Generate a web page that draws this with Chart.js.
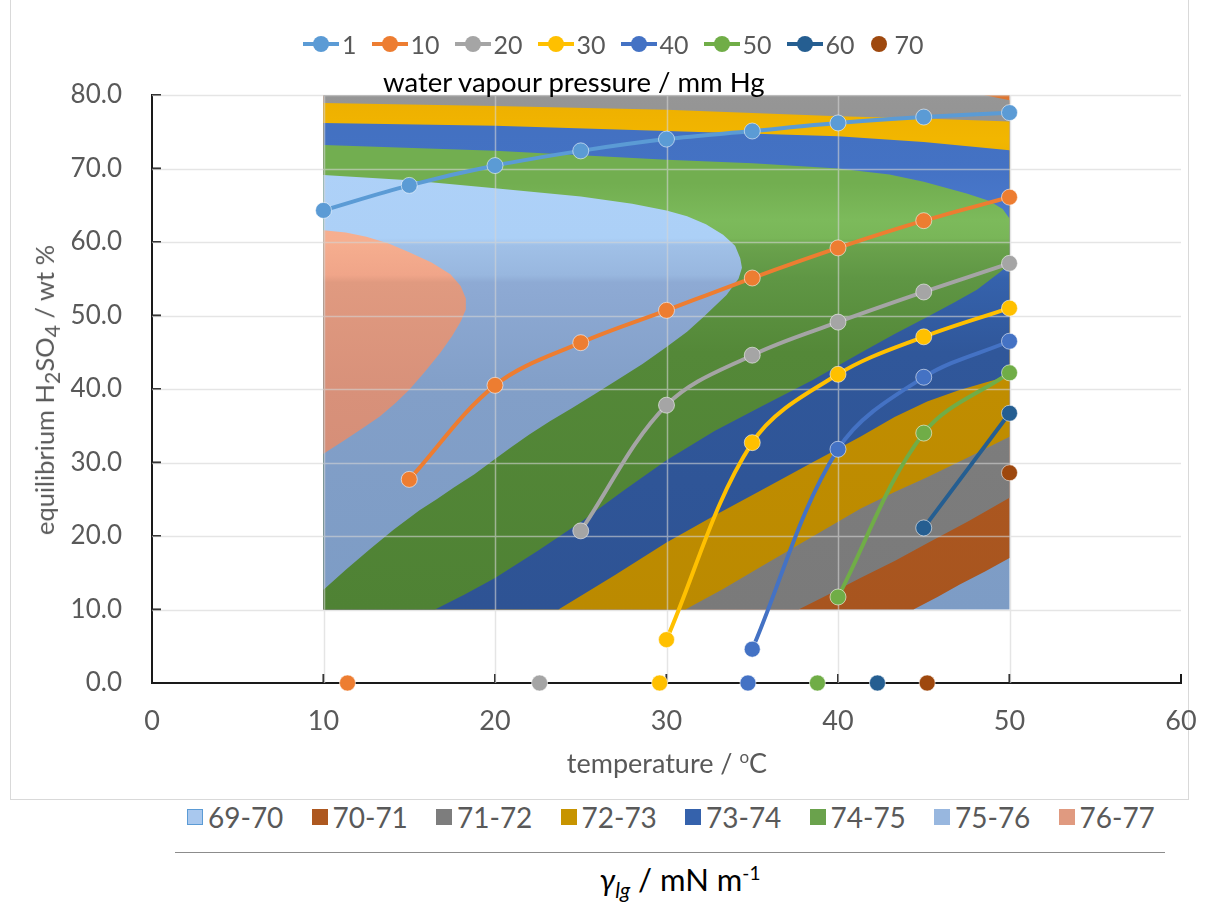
<!DOCTYPE html>
<html>
<head>
<meta charset="utf-8">
<script src="https://cdn.jsdelivr.net/npm/chart.js@4.4.1/dist/chart.umd.min.js"></script>
<style>
  body { margin: 0; background: #fff; font-family: Lato, "Open Sans", sans-serif; }
  #wrap { position: relative; width: 1208px; height: 903px; overflow: hidden; }
  #frame { position: absolute; left: 10px; top: -2px; width: 1177px; height: 800px; border: 1px solid #d9d9d9; }
  #box { position: absolute; left: 0; top: 0; width: 1208px; height: 800px; }
  #topLegend { position: absolute; left: 303px; top: 28px; height: 32px; display: flex; align-items: center; gap: 15px; font-size: 25px; color: #595959; white-space: nowrap; }
  #topLegend .it { display: flex; align-items: center; gap: 3px; }
  #topLegend .mk { position: relative; width: 36px; height: 16px; }
  #topLegend .mk::before { content: ''; position: absolute; left: 0; right: 0; top: 6px; height: 4px; background: var(--c); }
  #topLegend .mk::after { content: ''; position: absolute; left: 10px; top: 0; width: 16px; height: 16px; border-radius: 50%; background: var(--c); }
  #topLegend .mk.dot::before { display: none; }
  #topLegend .mk.dot { width: 18px; margin-right: 4px; }
  #topLegend .mk.dot::after { left: 1px; }
  #seriesTitle { position: absolute; left: 383px; top: 65px; font-size: 27.5px; color: #000; white-space: nowrap; }
  #yTitle { position: absolute; left: 47px; top: 390px; transform: translate(-50%, -50%) rotate(-90deg); font-size: 25.5px; color: #595959; white-space: nowrap; }
  #xTitle { position: absolute; left: 667px; top: 762px; transform: translate(-50%, -50%); font-size: 27px; color: #595959; white-space: nowrap; }
  #bandLegend { position: absolute; left: 187px; top: 801px; height: 32px; display: flex; align-items: center; font-size: 28px; color: #595959; white-space: nowrap; }
  #bandLegend .it { display: flex; align-items: center; width: 124.5px; }
  #bandLegend .sw { width: 16px; height: 16px; margin-right: 5px; box-sizing: border-box; }
  #rule { position: absolute; left: 175px; top: 852px; width: 990px; height: 0; border-top: 1px solid #8c8c8c; }
  #zTitle { position: absolute; left: 680px; top: 881px; transform: translate(-50%, -50%); font-size: 31px; color: #000; white-space: nowrap; }
</style>
</head>
<body>
<div id="wrap">
  <div id="frame"></div>
  <div id="box"><canvas id="chart"></canvas></div>
  <div id="topLegend"></div>
  <div id="seriesTitle">water vapour pressure / mm Hg</div>
  <div id="yTitle">equilibrium H<sub>2</sub>SO<sub>4</sub> / wt %</div>
  <div id="xTitle">temperature / <sup style="font-size:17px">o</sup>C</div>
  <div id="bandLegend"></div>
  <div id="rule"></div>
  <div id="zTitle"><i>γ<sub style="font-size:21px">lg</sub></i> / mN m<sup style="font-size:19px">-1</sup></div>
</div>
<script>
// equilibrium curves: wt % H2SO4 against temperature, one array per water vapour pressure
const temps = [10, 15, 20, 25, 30, 35, 40, 45, 50];
const pressures = ['1', '10', '20', '30', '40', '50', '60', '70'];
const wt1  = [64.3, 67.7, 70.4, 72.4, 74.0, 75.1, 76.2, 77.0, 77.6];
const wt10 = [null, 27.7, 40.5, 46.3, 50.7, 55.1, 59.2, 62.9, 66.1];
const wt20 = [null, null, null, 20.7, 37.8, 44.6, 49.1, 53.2, 57.1];
const wt30 = [null, null, null, null, 5.9, 32.7, 42.0, 47.1, 51.0];
const wt40 = [null, null, null, null, null, 4.6, 31.8, 41.6, 46.5];
const wt50 = [null, null, null, null, null, null, 11.7, 34.0, 42.2];
const wt60 = [null, null, null, null, null, null, null, 21.1, 36.7];
const wt70 = [null, null, null, null, null, null, null, null, 28.6];
// points on the temperature axis (0 wt %)
const dewTemps = [11.4, 22.6, 29.6, 34.75, 38.8, 42.3, 45.2];
const dewWt = [0, 0, 0, 0, 0, 0, 0];

// surface tension contour lines, [temperature, wt %]
const bandLabels = ['69-70', '70-71', '71-72', '72-73', '73-74', '74-75', '75-76', '76-77'];
const gridBox = [[10, 10], [50, 10], [50, 80], [10, 80]];
const iso70Lower = [[44.4, 10], [45.8, 11.7], [47.1, 13.4], [48.6, 15.2], [50, 17.0]];
const iso71Upper = [[10, 80], [48.5, 80], [50, 79.3]];
const iso71Lower = [[37.7, 10], [39.5, 12.1], [41.3, 14.3], [43.3, 16.6], [45.2, 19.0], [47.6, 22.0], [50, 25.2]];
const iso72Upper = [[10, 78.9], [20, 78.5], [30, 78.0], [40, 77.1], [45, 76.8], [50, 76.4]];
const iso72Lower = [[31.1, 10], [33.3, 12.8], [35.5, 15.8], [38.5, 19.9], [41.3, 23.7], [43.3, 26.0], [45.2, 28.0], [47.6, 30.7], [50, 33.5]];
const iso73Upper = [[10, 76.2], [20, 75.8], [30, 75.1], [40, 74.4], [45, 73.6], [50, 72.5]];
const iso73Lower = [[23.7, 10], [25.4, 12.4], [27, 14.7], [30, 19.1], [32.8, 22.8], [35.5, 26.2], [38.5, 30.0], [41.3, 33.5], [43.3, 36.2],
                    [45.2, 38.3], [47, 39.8], [48.6, 40.9], [50, 41.8]];
const iso74Upper = [[10, 73.2], [20, 72.4], [30, 71.2], [35, 70.7], [40, 70.0], [43, 69.2], [45, 68.2], [47.5, 66.6], [48.8, 65.6],
                    [49.6, 64.5], [50, 63.2]];
const iso74Lower = [[16.5, 10], [18.2, 12.0], [20, 14.3], [22.5, 18.0], [25, 21.9], [27.5, 26.2], [30, 30.3], [32.8, 34.3], [35.5, 37.6],
                    [38.5, 41.2], [41.3, 44.9], [43.3, 47.5], [45.2, 49.8], [46.8, 51.8], [48.1, 53.5], [49.4, 55.8], [50, 57.0]];
const iso75 = [[10, 69.1], [15, 68.4], [20, 67.3], [25, 66.2], [28, 65.2], [30, 64.3], [31.2, 63.5], [32.3, 62.4], [33.3, 61.0],
               [34.0, 59.5], [34.3, 57.8], [34.4, 56.5], [34.2, 55.0], [33.5, 52.8], [32.2, 49.9], [31.2, 47.8], [30, 45.7],
               [28.6, 43.4], [27.1, 41.2], [25.8, 39.3], [24.5, 37.4], [23.2, 35.6], [22, 33.8], [20.9, 32.0], [19.9, 30.3],
               [18.8, 28.4], [17.6, 26.6], [16.6, 25.0], [15.6, 23.5], [14.1, 20.9], [12.7, 18.2], [11.3, 15.4], [10, 12.7]];
const iso76 = [[10, 61.6], [11.3, 61.3], [12.5, 60.7], [13.8, 59.8], [15, 58.6], [16.3, 57.2], [17.4, 55.6], [18.0, 54.0],
               [18.3, 52.3], [18.3, 50.8], [18.0, 49.2], [17.5, 47.2], [16.8, 44.9], [15.9, 42.3], [15, 39.9], [14.2, 38.1],
               [13.3, 36.3], [12.3, 34.7], [11.2, 33.0], [10, 31.2]];

const seriesColors = ['#5b9bd5', '#ed7d31', '#a5a5a5', '#ffc000', '#4472c4', '#70ad47', '#255e91', '#9e480e'];
// band shading, [wt %, colour] from top to bottom
const bandShades = [
  [[80, '#b0d2f8'], [60.5, '#acd0f7'], [59.5, '#a0c0e7'], [55.5, '#98b7df'], [54.5, '#8eaad4'], [40, '#829fc8'], [10, '#7d9cc5']],
  [[80, '#de7631'], [40, '#ad5820'], [10, '#a8551f']],
  [[80, '#969696'], [40, '#7d7d7d'], [10, '#7a7a7a']],
  [[80, '#edaf00'], [74, '#f2b600'], [50, '#c79400'], [40, '#c08d00'], [10, '#bb8a00']],
  [[80, '#4270bf'], [70, '#4472c4'], [60, '#4d7dd1'], [55, '#3562ac'], [45, '#30579a'], [10, '#2e5394']],
  [[80, '#72ae50'], [68, '#72ae50'], [63, '#7cba5b'], [60.5, '#79b658'], [59.5, '#6aa24c'], [55, '#5f9644'], [45, '#548838'], [10, '#4f8234']],
  [[80, '#b0d2f8'], [60.5, '#acd0f7'], [59.5, '#a0c0e7'], [55.5, '#98b7df'], [54.5, '#8eaad4'], [40, '#829fc8'], [10, '#7d9cc5']],
  [[80, '#f8b497'], [60, '#f6ae8f'], [55.5, '#f0a589'], [54.5, '#e09a80'], [40, '#d8917a'], [10, '#d08a74']]
];

function region(upper, lower) {
  return upper.concat(lower.slice().reverse(), [[10, 10]]);
}
const regions = [
  gridBox,
  region([[10, 80], [50, 80]], iso70Lower),
  region(iso71Upper, iso71Lower),
  region(iso72Upper, iso72Lower),
  region(iso73Upper, iso73Lower),
  region(iso74Upper, iso74Lower),
  iso75,
  iso76
];

function shade(stops) {
  return function (ctx) {
    const chart = ctx.chart;
    if (!chart.chartArea) return stops[0][1];
    const y = chart.scales.y;
    const g = chart.ctx.createLinearGradient(0, y.getPixelForValue(80), 0, y.getPixelForValue(10));
    stops.forEach(([w, c]) => g.addColorStop((80 - w) / 70, c));
    return g;
  };
}

const datasets = [];
regions.forEach((poly, i) => {
  datasets.push({
    label: bandLabels[i],
    data: poly.map(p => ({ x: p[0], y: p[1] })),
    fill: 'shape',
    backgroundColor: shade(bandShades[i]),
    borderWidth: 0,
    pointRadius: 0,
    tension: 0,
    order: 100 - i
  });
});
const lastContour = regions.length - 1;

[wt1, wt10, wt20, wt30, wt40, wt50, wt60, wt70].forEach((arr, i) => {
  datasets.push({
    label: pressures[i],
    data: temps.map((t, k) => ({ x: t, y: arr[k] })),
    borderColor: seriesColors[i],
    backgroundColor: seriesColors[i],
    borderWidth: 4,
    tension: 0.35,
    fill: false,
    clip: false,
    pointRadius: 8,
    pointBorderWidth: 1,
    pointBorderColor: 'rgba(255,255,255,0.55)',
    order: 10 - i
  });
});
datasets.push({
  label: 'axis points',
  data: dewTemps.map((t, k) => ({ x: t, y: dewWt[k] })),
  showLine: false,
  clip: false,
  backgroundColor: seriesColors.slice(1),
  pointRadius: 8,
  pointBorderWidth: 1,
  pointBorderColor: 'rgba(255,255,255,0.55)',
  order: 0
});

const overlay = {
  id: 'overlay',
  afterDatasetDraw(chart, args) {
    if (args.index !== lastContour) return;
    const { ctx, chartArea: a, scales: { x, y } } = chart;
    ctx.save();
    ctx.strokeStyle = 'rgba(212,212,212,0.6)';
    ctx.lineWidth = 1.5;
    ctx.beginPath();
    for (let v = 10; v <= 80; v += 10) {
      const py = Math.round(y.getPixelForValue(v)) + 0.5;
      ctx.moveTo(a.left, py); ctx.lineTo(a.right, py);
    }
    for (let v = 10; v <= 50; v += 10) {
      const px = Math.round(x.getPixelForValue(v)) + 0.5;
      ctx.moveTo(px, a.top); ctx.lineTo(px, a.bottom);
    }
    ctx.stroke();
    ctx.restore();
  },
  beforeDatasetsDraw(chart) {
    const { ctx, scales: { x, y } } = chart;
    ctx.save();
    ctx.strokeStyle = '#1a1a1a';
    ctx.lineWidth = 2;
    ctx.beginPath();
    x.ticks.forEach(t => {
      const px = x.getPixelForValue(t.value);
      ctx.moveTo(px, y.bottom); ctx.lineTo(px, y.bottom - 9);
    });
    y.ticks.forEach(t => {
      const py = y.getPixelForValue(t.value);
      ctx.moveTo(x.left, py); ctx.lineTo(x.left + 9, py);
    });
    ctx.stroke();
    ctx.restore();
  }
};

Chart.defaults.font.family = 'Lato, "Open Sans", sans-serif';
new Chart(document.getElementById('chart'), {
  type: 'line',
  data: { datasets: datasets },
  options: {
    responsive: true,
    maintainAspectRatio: false,
    animation: false,
    layout: { padding: { left: 0, top: 95, right: 27, bottom: 0 } },
    plugins: { legend: { display: false }, tooltip: { enabled: false }, filler: { propagate: false } },
    scales: {
      x: {
        type: 'linear', min: 0, max: 60,
        ticks: { stepSize: 10, color: '#595959', font: { size: 27 }, padding: 22 },
        grid: { display: false, drawTicks: false },
        border: { display: true, color: '#1a1a1a', width: 2 },
        afterFit: s => { s.height = 117; s.paddingLeft = 0; s.paddingRight = 0; }
      },
      y: {
        type: 'linear', min: 0, max: 80,
        ticks: { stepSize: 10, color: '#595959', font: { size: 26 }, padding: 30, callback: v => v.toFixed(1) },
        grid: { display: false, drawTicks: false },
        border: { display: true, color: '#1a1a1a', width: 2 },
        afterFit: s => { s.width = 152; }
      }
    }
  },
  plugins: [overlay]
});

// legends
const tl = document.getElementById('topLegend');
pressures.forEach((p, i) => {
  const it = document.createElement('span');
  it.className = 'it';
  it.innerHTML = '<span class="mk' + (i === pressures.length - 1 ? ' dot' : '') + '" style="--c:' + seriesColors[i] + '"></span>' + p;
  tl.appendChild(it);
});
const bl = document.getElementById('bandLegend');
bandLabels.forEach((b, i) => {
  const it = document.createElement('span');
  it.className = 'it';
  const c = bandShades[i][Math.floor(bandShades[i].length / 2)][1];
  const edge = i === 0 ? 'border:1.5px solid #5b9bd5;background:#a9c8ee' : 'background:' + c;
  it.innerHTML = '<span class="sw" style="' + edge + '"></span>' + b;
  bl.appendChild(it);
});
</script>
</body>
</html>
